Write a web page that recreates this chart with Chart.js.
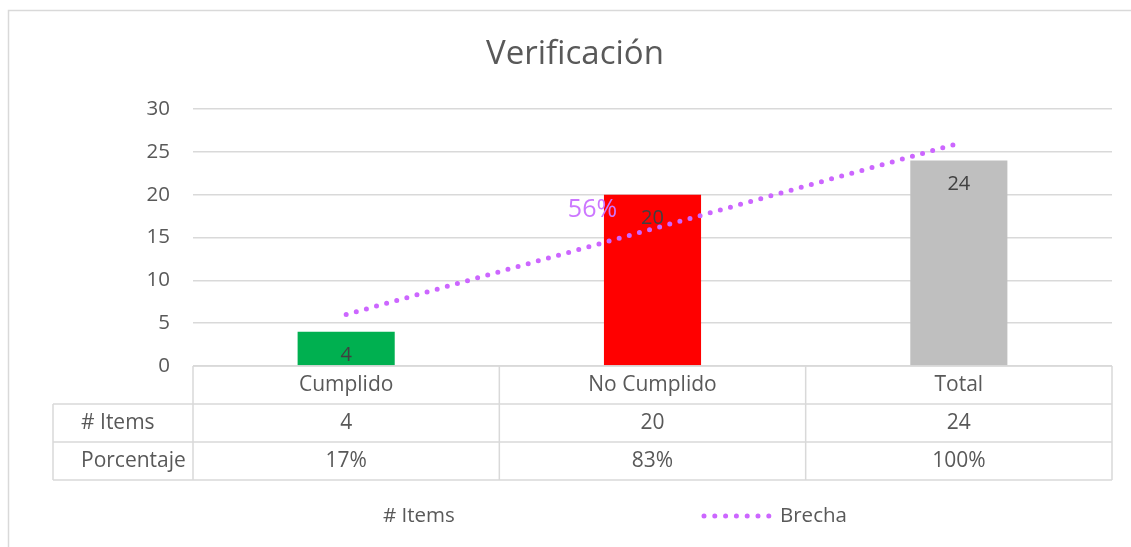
<!DOCTYPE html>
<html>
<head>
<meta charset="utf-8">
<script src="https://cdn.jsdelivr.net/npm/chart.js@4/dist/chart.umd.min.js"></script>
<style>
  html, body { margin: 0; padding: 0; background: #fff; }
  #wrap { width: 1131px; height: 547px; }
</style>
</head>
<body>
<div id="wrap"><canvas id="myChart"></canvas></div>
<script>
// data
const categories = ["Cumplido", "No Cumplido", "Total"];
const items = [4, 20, 24];
const percentages = ["17%", "83%", "100%"];
const brecha = [6, 16, 26];          // dotted trend line
const brechaLabel = "56%";
const barColors = ["#00b050", "#ff0000", "#bfbfbf"];
const yTicks = [0, 5, 10, 15, 20, 25, 30];

const FONT = "'Open Sans', 'Noto Sans', sans-serif";
const TEXT = "#595959";
const LINES = "#d9d9d9";

// draws title, bar labels, the data table and the legend
const extras = {
  id: "extras",
  afterDraw(chart) {
    const ctx = chart.ctx;
    const area = chart.chartArea;
    const x = chart.scales.x;
    const y = chart.scales.y;
    ctx.save();

    // outer frame
    ctx.strokeStyle = LINES;
    ctx.lineWidth = 1.5;
    ctx.strokeRect(8.5, 10.5, 1200, 600);

    // title
    ctx.fillStyle = TEXT;
    ctx.font = "33px " + FONT;
    ctx.textAlign = "center";
    ctx.textBaseline = "middle";
    ctx.fillText("Verificación", 575, 55);

    // value labels inside bars
    ctx.fillStyle = "#404040";
    ctx.font = "20px " + FONT;
    items.forEach((v, i) => {
      ctx.fillText(String(v), x.getPixelForValue(i), y.getPixelForValue(v) + 24);
    });

    // label on the trend line
    ctx.fillStyle = "#cc77ff";
    ctx.font = "25px " + FONT;
    ctx.fillText(brechaLabel, x.getPixelForValue(1) - 60, y.getPixelForValue(brecha[1]) - 19);

    // data table
    const colW = (area.right - area.left) / categories.length;
    const tableLeft = 53;
    const rowH = 38;
    const r0 = area.bottom, r1 = r0 + rowH, r2 = r1 + rowH, r3 = r2 + rowH;
    ctx.strokeStyle = LINES;
    ctx.lineWidth = 1.5;
    ctx.beginPath();
    ctx.moveTo(area.left, r0); ctx.lineTo(area.right, r0);
    ctx.moveTo(tableLeft, r1); ctx.lineTo(area.right, r1);
    ctx.moveTo(tableLeft, r2); ctx.lineTo(area.right, r2);
    ctx.moveTo(tableLeft, r3); ctx.lineTo(area.right, r3);
    ctx.moveTo(tableLeft, r1); ctx.lineTo(tableLeft, r3);
    for (let i = 0; i <= categories.length; i++) {
      const cx = area.left + i * colW;
      ctx.moveTo(cx, r0); ctx.lineTo(cx, r3);
    }
    ctx.stroke();

    ctx.fillStyle = TEXT;
    ctx.font = "21px " + FONT;
    categories.forEach((c, i) => {
      const cx = x.getPixelForValue(i);
      ctx.fillText(c, cx, (r0 + r1) / 2);
      ctx.fillText(String(items[i]), cx, (r1 + r2) / 2);
      ctx.fillText(percentages[i], cx, (r2 + r3) / 2);
    });
    ctx.textAlign = "left";
    ctx.fillText("# Items", 81, (r1 + r2) / 2);
    ctx.fillText("Porcentaje", 81, (r2 + r3) / 2);

    // legend
    const ly = 516;
    ctx.font = "20.5px " + FONT;
    ctx.fillText(chart.data.datasets[0].label, 383, ly);
    ctx.strokeStyle = "#cc66ff";
    ctx.lineWidth = 5;
    ctx.lineCap = "round";
    ctx.setLineDash([0, 10.8]);
    ctx.beginPath();
    ctx.moveTo(704, ly); ctx.lineTo(772, ly);
    ctx.stroke();
    ctx.setLineDash([]);
    ctx.fillText(chart.data.datasets[1].label, 780, ly);

    ctx.restore();
  }
};

new Chart(document.getElementById("myChart"), {
  data: {
    labels: categories,
    datasets: [
      {
        type: "bar",
        label: "# Items",
        data: items,
        backgroundColor: barColors,
        categoryPercentage: 1,
        barPercentage: 0.317,
        order: 2
      },
      {
        type: "line",
        label: "Brecha",
        data: brecha,
        borderColor: "#cc66ff",
        borderWidth: 5,
        borderCapStyle: "round",
        borderDash: [0, 10.5],
        pointRadius: 0,
        fill: false,
        order: 1
      }
    ]
  },
  options: {
    responsive: true,
    maintainAspectRatio: false,
    animation: false,
    layout: { padding: { top: 109, right: 19, bottom: 181, left: 0 } },
    plugins: {
      legend: { display: false },
      title: { display: false },
      tooltip: { enabled: false }
    },
    scales: {
      x: { display: false },
      y: {
        min: 0,
        max: 30,
        afterFit(scale) { scale.width = 193; },
        afterBuildTicks(scale) { scale.ticks = yTicks.map(v => ({ value: v })); },
        border: { display: false },
        grid: { color: LINES, lineWidth: 1.5, drawTicks: false },
        ticks: {
          padding: 23,
          color: TEXT,
          font: { family: FONT, size: 20.5 }
        }
      }
    }
  },
  plugins: [extras]
});
</script>
</body>
</html>
